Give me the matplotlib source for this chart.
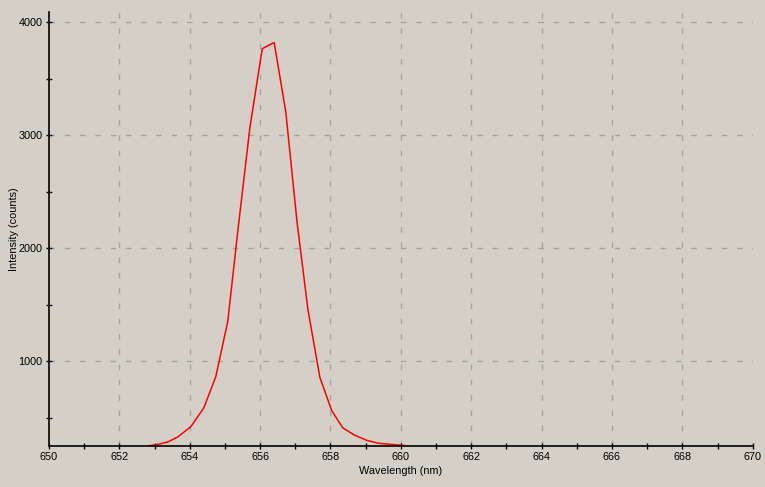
import matplotlib
matplotlib.use('Agg')
import matplotlib.pyplot as plt
from matplotlib.ticker import MultipleLocator

# spectrum points
wavelength = [652.81, 653.15, 653.38, 653.66, 654.03, 654.40, 654.74, 655.08, 655.37,
              655.71, 656.06, 656.40, 656.73, 657.05, 657.36, 657.70, 658.04, 658.35,
              658.69, 659.03, 659.35, 659.69, 660.10]
intensity = [250, 268, 286, 330, 420, 587, 862, 1350, 2160,
             3065, 3764, 3819, 3205, 2230, 1455, 855, 560, 410,
             345, 300, 275, 265, 255]

bg = '#d4d0c8'
gridcol = '#a4a4a4'
dash = (0, (4, 7))
plt.rcParams['font.family'] = ['Liberation Sans', 'DejaVu Sans']
fig = plt.figure(figsize=(7.65, 4.87), dpi=100, facecolor=bg)
ax = fig.add_axes([0.064, 0.0842, 0.920, 0.891], facecolor=bg)

ax.set_xlim(650, 670)
ax.set_ylim(250, 4088)
ax.xaxis.set_major_locator(MultipleLocator(2))
ax.xaxis.set_minor_locator(MultipleLocator(1))
ax.yaxis.set_major_locator(MultipleLocator(1000))
ax.yaxis.set_minor_locator(MultipleLocator(500))

# grid: horizontal from the locator, vertical ones skip the axis ends
ax.grid(axis='y', which='major', color=gridcol, linestyle=dash, lw=1)
for xv in range(652, 670, 2):
    ax.axvline(xv, color=gridcol, linestyle=dash, lw=1, zorder=0.5)

ax.plot(wavelength, intensity, color='red', lw=1.1)

for s in ['top', 'right']:
    ax.spines[s].set_visible(False)
for s in ['left', 'bottom']:
    ax.spines[s].set_linewidth(1.2)

ax.tick_params(which='both', direction='inout', length=5, width=1, labelsize=7.8, pad=2)

ax.set_xlabel('Wavelength (nm)', fontsize=7.8, labelpad=3)
ax.set_ylabel('Intensity (counts)', fontsize=7.8, labelpad=0)

fig.savefig('out.png', dpi=100, facecolor=bg)
